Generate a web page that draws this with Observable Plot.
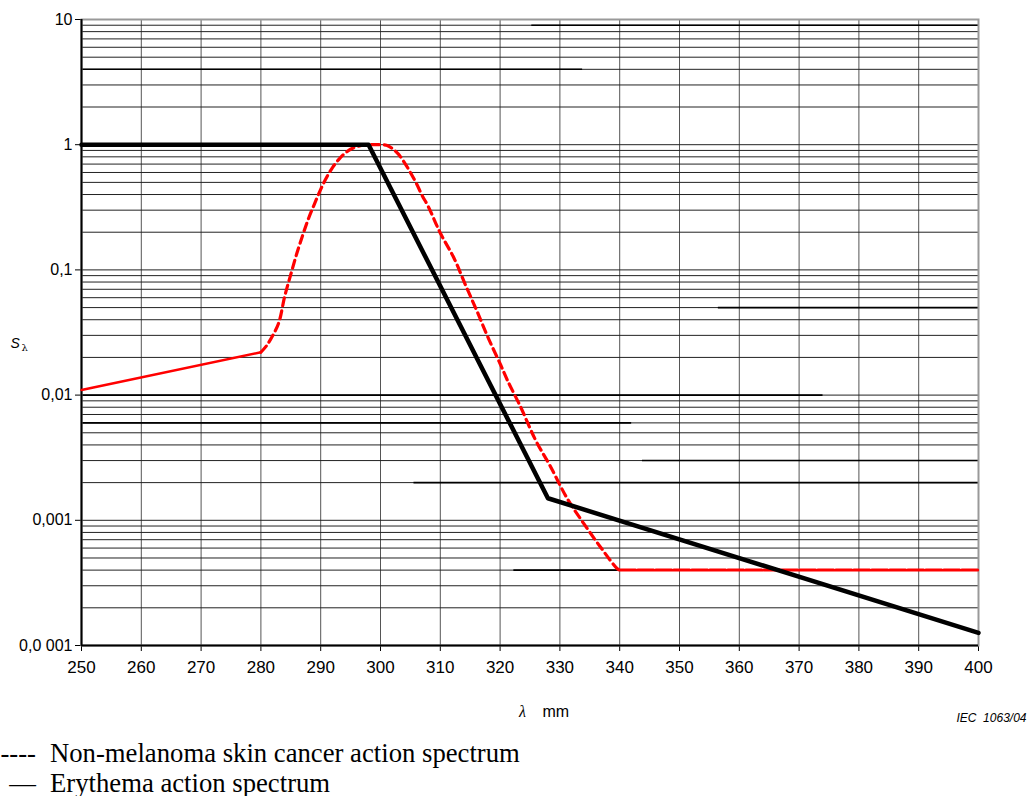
<!DOCTYPE html>
<html>
<head>
<meta charset="utf-8">
<script src="https://cdn.jsdelivr.net/npm/d3@7"></script>
<script src="https://cdn.jsdelivr.net/npm/@observablehq/plot@0.6"></script>
<style>
  html, body { margin: 0; padding: 0; background: white; }
  #chart svg { display: block; }
  .legend { font-family: "Liberation Serif", "Times New Roman", serif; font-size: 26.7px; line-height: 30px; color: black; }
  .legend div { white-space: nowrap; height: 30px; }
  .legend .sym { display: inline-block; width: 36px; text-align: right; margin-right: 14px; white-space: pre; }
</style>
</head>
<body>
<div id="chart"></div>
<div class="legend"><div><span class="sym">----</span>Non-melanoma skin cancer action spectrum</div><div><span class="sym">—</span>Erythema action spectrum</div></div>
<script>
// Wavelength ticks (nm)
const xTicks = [250, 260, 270, 280, 290, 300, 310, 320, 330, 340, 350, 360, 370, 380, 390, 400];
// Log-scale decade ticks and their labels
const yTicks = [10, 1, 0.1, 0.01, 0.001, 0.0001];
const yTickLabels = ["10", "1", "0,1", "0,01", "0,001", "0,0 001"];

// Erythema action spectrum (vertices)
const erythemaX = [250, 298, 328, 400];
const erythemaY = [1, 1, 0.0015, 0.000126];

// Non-melanoma skin cancer action spectrum
const nmscX = [250, 280, 281, 282, 283, 284, 285, 286, 287, 288, 289, 290, 291, 292, 293, 294, 295, 296, 297, 298, 299, 300, 301, 302, 303, 304, 305, 306, 307, 308, 310, 312.3, 314.2, 316.2, 318.1, 320.1, 321.2, 323.4, 325.9, 328.4, 331.2, 334, 336.8, 339.6, 340, 400];
const nmscY = [0.011, 0.022, 0.025, 0.03, 0.038, 0.062, 0.092, 0.135, 0.19, 0.26, 0.34, 0.44, 0.55, 0.66, 0.76, 0.85, 0.92, 0.965, 0.99, 1.0, 1.0, 1.0, 0.99, 0.93, 0.84, 0.72, 0.6, 0.49, 0.39, 0.32, 0.197, 0.124, 0.076, 0.046, 0.028, 0.0174, 0.0132, 0.0081, 0.0044, 0.0027, 0.0015, 0.00094, 0.00061, 0.00041, 0.0004, 0.0004];

// Stray heavier partial grid rules visible in the original
const strayY  = [4, 9, 0.05, 0.01, 0.006, 0.003, 0.002, 0.0004];
const strayX1 = [250, 325.3, 356.5, 250, 250, 343.8, 305.6, 322.3];
const strayX2 = [333.8, 400, 400, 374, 342, 400, 400, 340];

const erythema = erythemaX.map((x, i) => ({x, y: erythemaY[i]}));
const nmsc = nmscX.map((x, i) => ({x, y: nmscY[i]}));
const stray = strayY.map((y, i) => ({y, x1: strayX1[i], x2: strayX2[i]}));

const minorY = d3.range(-4, 1).flatMap(e => d3.range(1, 10).map(m => m * Math.pow(10, e))).filter(v => v > 0.0001 && v < 10);

const chart = Plot.plot({
  width: 1031,
  height: 738,
  marginLeft: 81,
  marginRight: 53,
  marginTop: 19,
  marginBottom: 93,
  style: {fontFamily: "'Liberation Sans', Arial, sans-serif", fontSize: "16px", background: "white", color: "black", overflow: "visible"},
  x: {domain: [250, 400], ticks: xTicks, tickSize: 6, tickPadding: 9, label: null, tickFormat: d => String(d)},
  y: {type: "log", domain: [0.0001, 10], ticks: yTicks, tickSize: 6, tickPadding: 3, label: null,
      tickFormat: d => yTickLabels[yTicks.findIndex(t => Math.abs(t - d) / t < 1e-6)] ?? ""},
  marks: [
    Plot.ruleX(xTicks, {stroke: "#555", strokeWidth: 1}),
    Plot.ruleY(minorY, {stroke: "#222", strokeWidth: 1}),
    Plot.ruleY(stray, {y: "y", x1: "x1", x2: "x2", stroke: "#000", strokeWidth: 1.6}),
    Plot.frame({stroke: "#999", strokeWidth: 2}),
    Plot.ruleX([250], {stroke: "#000", strokeWidth: 2}),
    Plot.ruleY([0.0001], {stroke: "#000", strokeWidth: 2}),
    Plot.line(nmsc.filter(d => d.x <= 280), {x: "x", y: "y", stroke: "red", strokeWidth: 2.5}),
    Plot.line(nmsc.filter(d => d.x >= 280 && d.x <= 340), {x: "x", y: "y", stroke: "red", strokeWidth: 3.2, strokeDasharray: "8,5", curve: "catmull-rom"}),
    Plot.line(nmsc.filter(d => d.x >= 340), {x: "x", y: "y", stroke: "red", strokeWidth: 3, strokeDasharray: "16,2"}),
    Plot.line(erythema, {x: "x", y: "y", stroke: "black", strokeWidth: 4.5, strokeLinejoin: "round"}),
    Plot.text(["S"], {frameAnchor: "left", dx: -71, dy: 15, lineAnchor: "bottom", textAnchor: "start", fontStyle: "italic", fontSize: 14}),
    Plot.text(["λ"], {frameAnchor: "left", dx: -60, dy: 18, lineAnchor: "bottom", textAnchor: "start", fontSize: 10, fontFamily: "'DejaVu Serif', serif"}),
    Plot.text(["λ"], {frameAnchor: "bottom", dx: -7.5, dy: 71, lineAnchor: "bottom", textAnchor: "middle", fontStyle: "italic", fontSize: 16, fontFamily: "'Liberation Serif', serif"}),
    Plot.text(["mm"], {frameAnchor: "bottom", dx: 12.5, dy: 71, lineAnchor: "bottom", textAnchor: "start", fontSize: 16}),
    Plot.text(["IEC\u00a0\u00a01063/04"], {frameAnchor: "bottom-right", dx: 48, dy: 76, lineAnchor: "bottom", textAnchor: "end", fontStyle: "italic", fontSize: 12})
  ]
});
d3.select(chart).selectAll('[aria-label="x-axis tick label"]').attr("font-size", 17);
document.getElementById("chart").appendChild(chart);
</script>
</body>
</html>
